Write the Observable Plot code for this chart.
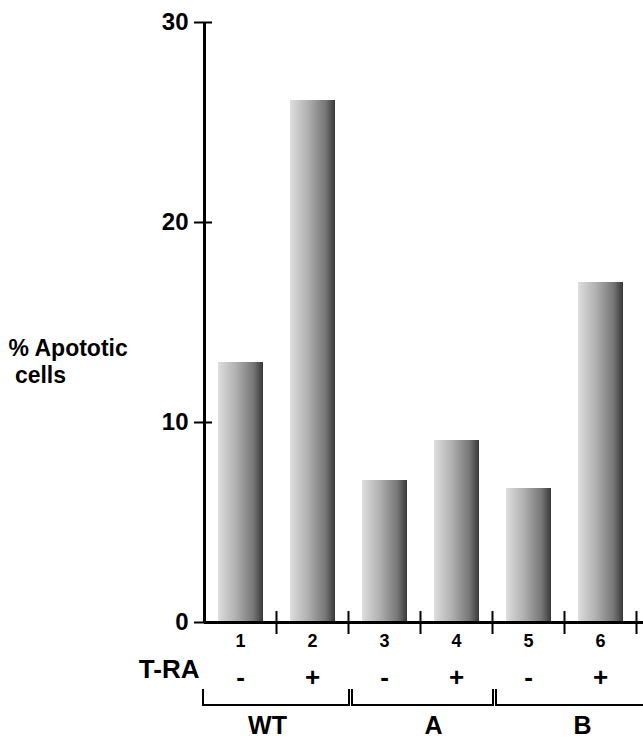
<!DOCTYPE html>
<html><head><meta charset="utf-8">
<script src="https://cdn.jsdelivr.net/npm/d3@7"></script>
<script src="https://cdn.jsdelivr.net/npm/@observablehq/plot@0.6"></script>
<style>body{margin:0;background:#fff} svg{display:block}</style>
</head><body><div id="chart"></div>
<script>
// ---- data ----
const lanes = [1, 2, 3, 4, 5, 6];
const apoptosis = [13.0, 26.1, 7.1, 9.1, 6.7, 17.0];
const treatment = ["-", "+", "-", "+", "-", "+"];
const groups = ["WT", "A", "B"];
const groupStart = [0, 2, 4];
const groupEnd = [2, 4, 6.1];
const yTicks = [0, 10, 20, 30];
const yLabel = "% Apototic\n cells";
const rowLabel = "T-RA";

const bars = lanes.map((l, i) => ({lane: l, value: apoptosis[i], sign: treatment[i]}));
const grp = groups.map((g, i) => ({name: g, start: groupStart[i], end: groupEnd[i]}));
const font = "'Liberation Sans', Arial, Helvetica, sans-serif";
const xMax = 439 / 72;

const groupLabel = (name, dx) => Plot.text(grp.filter(d => d.name === name), {
  x: d => (d.start + Math.min(d.end, 6)) / 2, y: 0, text: "name", dy: 103, dx, fontSize: 25, fill: "#000"
});

const plot = Plot.plot({
  width: 643, height: 743,
  marginLeft: 204, marginRight: 0, marginTop: 22, marginBottom: 121,
  x: {domain: [0, xMax], axis: null},
  y: {domain: [0, 30], axis: null},
  style: {fontFamily: font, fontWeight: "bold", color: "#000", background: "#fff", overflow: "visible"},
  marks: [
    Plot.rectY(bars, {x1: d => d.lane - 1, x2: d => d.lane, y1: 0, y2: "value", insetLeft: 14, insetRight: 13, fill: "url(#barGrad)"}),
    Plot.axisY({ticks: yTicks, tickSize: 18, dx: 8, tickPadding: 6, strokeWidth: 2, fontSize: 24, label: null}),
    Plot.axisX({ticks: lanes, tickSize: 23, dy: -11, tickFormat: () => "", strokeWidth: 2, label: null}),
    Plot.ruleX([0], {y1: 0, y2: 30, strokeWidth: 3, stroke: "#000"}),
    Plot.ruleY([0], {x1: 0, x2: xMax, strokeWidth: 3, stroke: "#000"}),
    Plot.text(bars, {x: d => d.lane - 0.5, y: 0, text: d => String(d.lane), dy: 19, fontSize: 18, fill: "#000"}),
    Plot.text(bars, {x: d => d.lane - 0.5, y: 0, text: "sign", dy: 55, fontSize: 26, fill: "#000"}),
    Plot.text([rowLabel], {frameAnchor: "bottom-left", text: d => d, textAnchor: "end", dx: -5, dy: 55, fontSize: 26, fill: "#000"}),
    Plot.text([yLabel], {frameAnchor: "top-left", text: d => d, textAnchor: "start", lineAnchor: "top", lineHeight: 1.17, dx: -196, dy: 314, fontSize: 23, fill: "#000"}),
    groupLabel("WT", -9),
    groupLabel("A", 13),
    groupLabel("B", 18)
  ]
});

// gradient for bars
const svg = d3.select(plot);
const grad = svg.insert("defs", ":first-child").append("linearGradient")
  .attr("id", "barGrad").attr("x1", 0).attr("x2", 1).attr("y1", 0).attr("y2", 0);
[[0, "#dedede"], [0.4, "#b0b0b0"], [0.8, "#747474"], [1, "#383838"]].forEach(([o, c]) =>
  grad.append("stop").attr("offset", o).attr("stop-color", c));

// group brackets drawn with the plot's own scales
const sx = plot.scale("x").apply, sy = plot.scale("y").apply;
const y0 = sy(0);
const br = svg.append("g").attr("fill", "none").attr("stroke", "#000").attr("stroke-width", 2);
grp.forEach(g => {
  const L = sx(g.start) + (g.start > 0 ? 4 : -1);
  const R = g.end > 6 ? sx(g.end) : sx(g.end) + 1;
  const top = y0 + 67, bot = y0 + 83;
  br.append("path").attr("d", g.end > 6
    ? `M${L},${top}V${bot}H${R}`
    : `M${L},${top}V${bot}H${R}V${top}`);
});

document.getElementById("chart").appendChild(plot);
</script>
</body></html>
